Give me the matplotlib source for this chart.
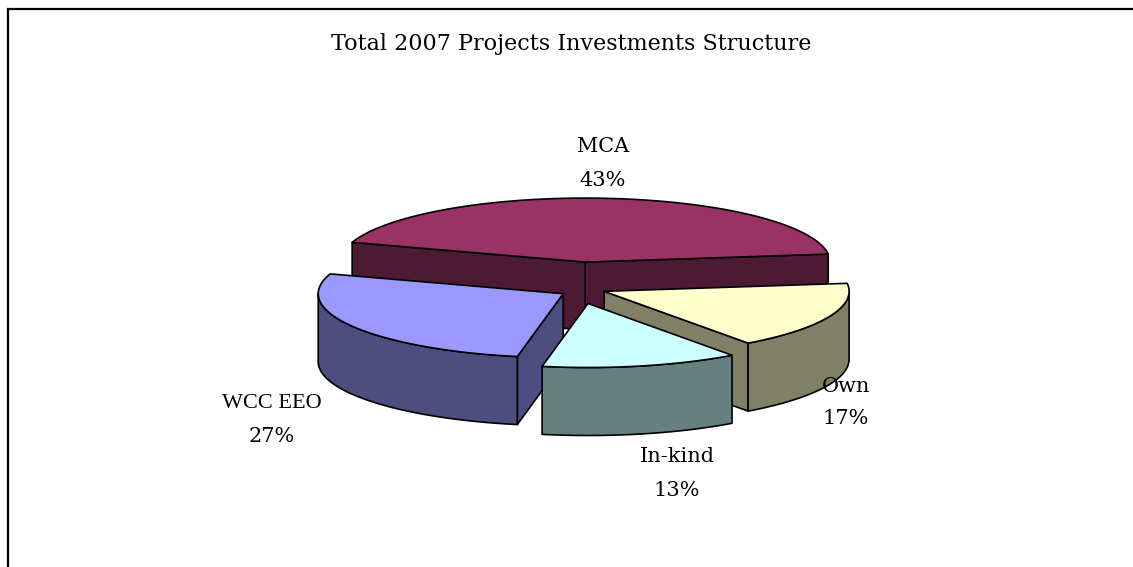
import numpy as np
import matplotlib.pyplot as plt
from matplotlib.patches import Polygon

# slices, clockwise from the upper-left edge of MCA
labels = ['MCA', 'Own', 'In-kind', 'WCC EEO']
shares = [43, 17, 13, 27]
top_colors = ['#993366', '#FFFFCC', '#CCFFFF', '#9999FF']
side_colors = ['#4D1A33', '#808066', '#668080', '#4D4D80']
# where the text labels go (pixels, middle of the two lines)
label_xy = [(603, 163), (846, 402), (677, 473), (272, 420)]

title = 'Total 2007 Projects Investments Structure'

fig = plt.figure(figsize=(11.33, 5.67), dpi=100)
ax = fig.add_axes([0, 0, 1, 1])
ax.set_xlim(0, 1133)
ax.set_ylim(567, 0)
ax.axis('off')

# pie geometry in pixels
cx, cy = 583, 283
rx, ry = 245, 64
h = 68
ex, ey = 23, 21
start = 162.0


def rim(ox, oy, t, dz=0):
    return np.column_stack([ox + rx * np.cos(t), oy - ry * np.sin(t) + dz])


def face(pts, col):
    ax.add_patch(Polygon(pts, closed=True, facecolor=col, edgecolor='black',
                         lw=1.2, joinstyle='round'))


slices = []
a_hi = start
for i, s in enumerate(shares):
    a_lo = a_hi - s * 3.6
    slices.append((i, a_lo, a_hi))
    a_hi = a_lo

# back slices first
order = sorted(slices, key=lambda sl: -np.sin(np.radians((sl[1] + sl[2]) / 2)))

for i, a1, a2 in order:
    mid = np.radians((a1 + a2) / 2)
    ox = cx + ex * np.cos(mid)
    oy = cy - ey * np.sin(mid)
    t1, t2 = np.radians(a1), np.radians(a2)

    # cut faces
    if np.cos(t1) > 0:
        p = rim(ox, oy, np.array([t1]))[0]
        face([(ox, oy), p, (p[0], p[1] + h), (ox, oy + h)], side_colors[i])
    if np.cos(t2) < 0:
        p = rim(ox, oy, np.array([t2]))[0]
        face([(ox, oy), p, (p[0], p[1] + h), (ox, oy + h)], side_colors[i])

    # outer wall, front half only
    for k in range(-2, 2):
        lo = max(a1, 180 + 360 * k)
        hi = min(a2, 360 + 360 * k)
        if hi > lo:
            t = np.radians(np.linspace(lo, hi, 120))
            wall = np.vstack([rim(ox, oy, t), rim(ox, oy, t[::-1], h)])
            face(wall, side_colors[i])

    # top
    t = np.linspace(t1, t2, 200)
    top = np.vstack([[(ox, oy)], rim(ox, oy, t)])
    face(top, top_colors[i])

font = 'DejaVu Serif'
for lab, s, (x, y) in zip(labels, shares, label_xy):
    fam = 'Liberation Serif' if lab == 'WCC EEO' else font
    size = 16 if lab == 'WCC EEO' else 15
    ax.text(x, y - 16, lab, ha='center', va='center', fontsize=size, family=fam)
    ax.text(x, y + 17, f'{s}%', ha='center', va='center', fontsize=15, family=font)

ax.text(571, 44, title, ha='center', va='center', fontsize=16, family=font)

# chart border
ax.plot([8, 8, 1140], [580, 9, 9], color='black', lw=1.6, clip_on=False,
        solid_joinstyle='miter')

fig.savefig('out.png', dpi=100)
